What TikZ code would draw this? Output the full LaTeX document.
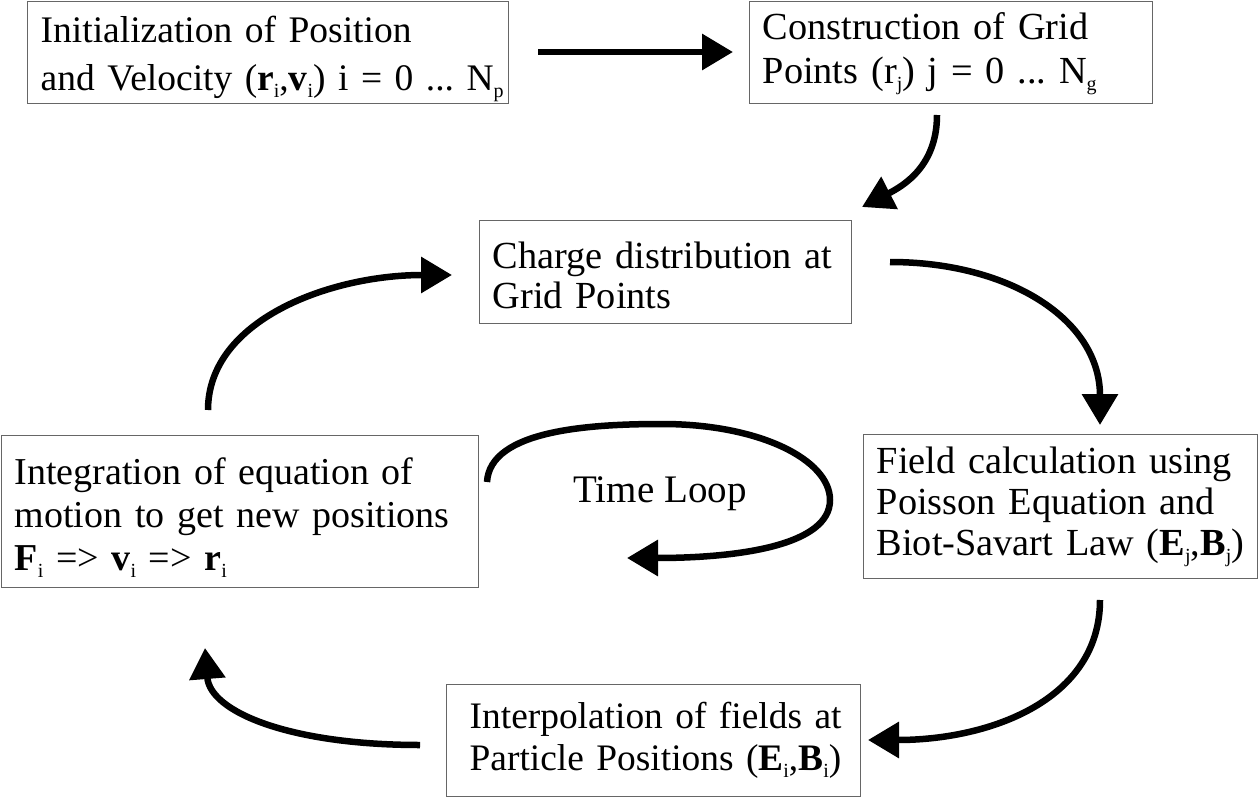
\documentclass[tikz,border=0pt]{standalone}
\usepackage{fontspec}
\setmainfont{Liberation Serif}
\usetikzlibrary{arrows.meta}
\newcommand\sbs[1]{\raisebox{-7pt}{\fontsize{20}{20}\selectfont #1}}
\newcommand\tp[1]{\rule{0pt}{#1pt}}
\newcommand\bt[1]{\rule[-#1pt]{0pt}{#1pt}}
\hfuzz=200pt
\begin{document}
\begin{tikzpicture}[x=1pt,y=-1pt,
  box/.style={draw=black!60, line width=1.4pt, anchor=north west, align=left,
    inner xsep=13pt, inner ysep=0pt},
  fs/.style 2 args={font=\fontsize{#1}{#2}\selectfont\frenchspacing},
  flow/.style={line width=6.5pt, -{Triangle[length=31pt,width=35pt]}}]
\useasboundingbox (0,0) rectangle (1259,797);
\node[box, fs={37.5}{48}, text width=455pt] (init) at (27,1)
  {\tp{41}\mbox{Initialization of Position}\\\mbox{and Velocity (\textbf{r}\sbs{i},\textbf{v}\sbs{i}) i = 0 ... N\sbs{p}}\bt{13}};
\node[box, fs={38.3}{44}, text width=377pt] (grid) at (749,1)
  {\tp{38}\mbox{Construction of Grid}\\\mbox{Points (r\sbs{j}) j = 0 ... N\sbs{g}}\bt{20}};
\node[box, fs={38.3}{40}, text width=346pt] (charge) at (479,220)
  {\tp{48}\mbox{Charge distribution at}\\\mbox{Grid Points}\bt{15}};
\node[box, fs={38}{43}, text width=451pt] (integ) at (1,435)
  {\tp{49}\mbox{Integration of equation of}\\\mbox{motion to get new positions}\\\mbox{\textbf{F}\sbs{i} => \textbf{v}\sbs{i} => \textbf{r}\sbs{i}}\bt{17}};
\node[box, fs={38.3}{41}, text width=368pt] (field) at (863,434)
  {\tp{39}\mbox{Field calculation using}\\\mbox{Poisson Equation and}\\\mbox{Biot-Savart Law (\textbf{E}\sbs{j},\textbf{B}\sbs{j})}\bt{23}};
\node[box, fs={37.4}{42}, text width=388pt] (interp) at (446,684)
  {\hspace*{10pt}\tp{44}\mbox{Interpolation of fields at}\\\hspace*{10pt}\mbox{Particle Positions (\textbf{E}\sbs{i},\textbf{B}\sbs{i})}\bt{26}};
\node[fs={39}{40}] (tl) at (660,494) {Time Loop};
% connector endpoints
\coordinate (a1) at (538,52);  \coordinate (a2) at (733,52);
\coordinate (b1) at (937,115); \coordinate (b2) at (862,207);
\coordinate (c1) at (890,262); \coordinate (c2) at (1100,425);
\coordinate (d1) at (1100,600);\coordinate (d2) at (868,740);
\coordinate (e1) at (420,745); \coordinate (e2) at (205,648);
\coordinate (f1) at (208,410); \coordinate (f2) at (452,275);
\coordinate (t1) at (487,482); \coordinate (t2) at (627,558);
\draw[flow] (a1) -- (a2);
\draw[flow] (b1) .. controls (937,165) and (905,185) .. (b2);
\draw[flow] (c1) .. controls (1010,262) and (1100,320) .. (c2);
\draw[flow] (d1) .. controls (1100,700) and (990,740) .. (d2);
\draw[flow] (e1) .. controls (290,745) and (210,712) .. (e2);
\draw[flow] (f1) .. controls (208,320) and (330,275) .. (f2);
\draw[flow] (t1) .. controls (490,430) and (590,424) .. (662,424)
  .. controls (760,424) and (830,460) .. (830,500)
  .. controls (830,545) and (740,558) .. (t2);
\end{tikzpicture}
\end{document}
